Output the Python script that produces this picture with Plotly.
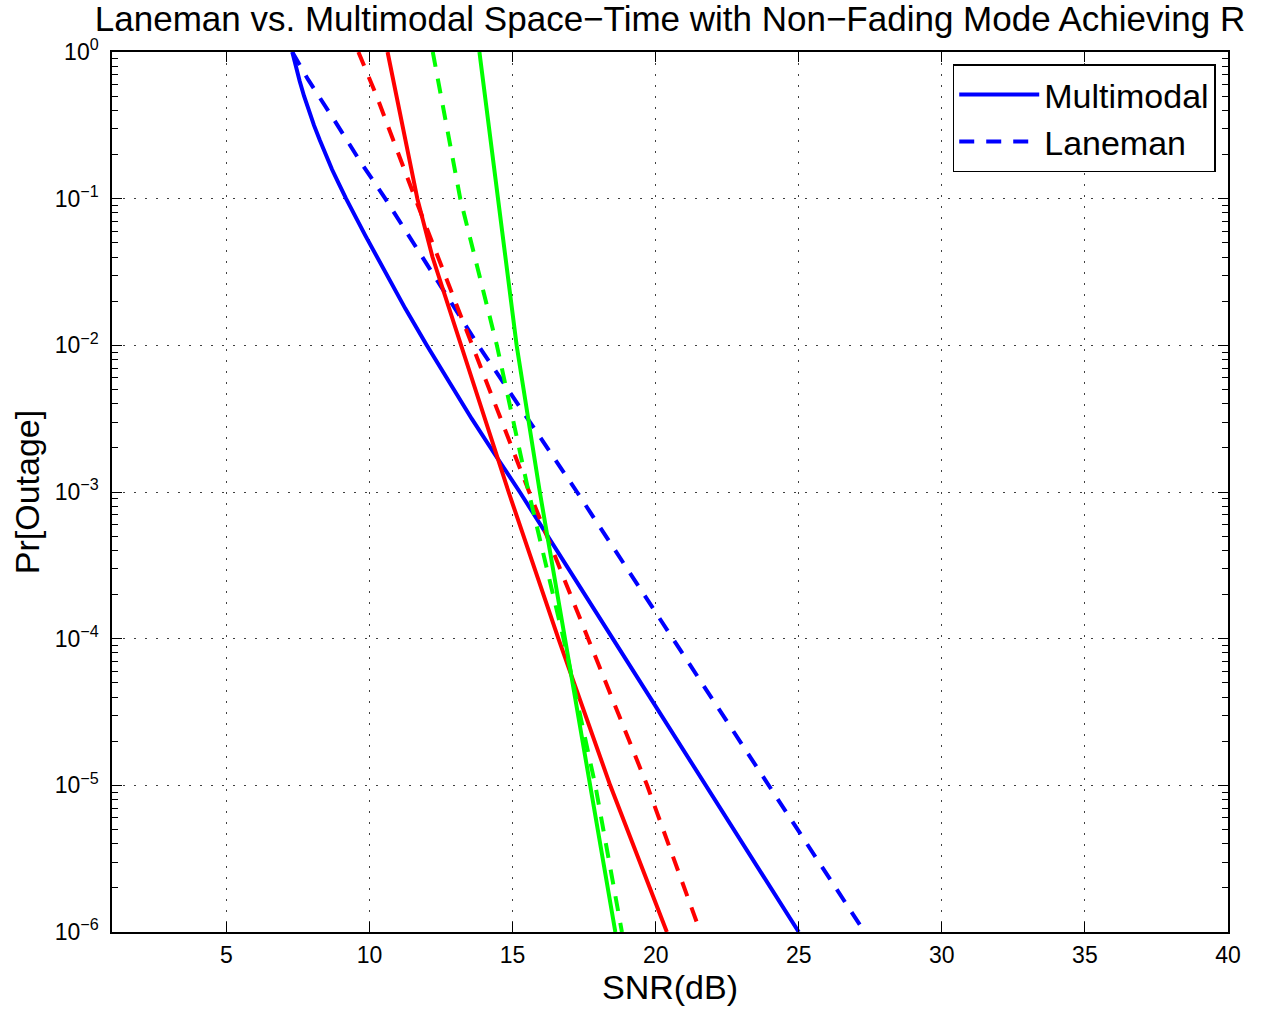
import plotly.graph_objects as go

# ---- data (SNR in dB, outage probability) ----
snr_multi_blue = [7.3, 7.42, 7.56, 7.71, 7.88, 8.06, 8.26, 8.46, 8.69, 8.93, 9.18,
                  9.85, 10.54, 11.25, 12.0, 12.77, 13.57, 14.4, 15.25, 18.5, 21.75, 25.0]
pout_multi_blue = [1.0, 0.794, 0.631, 0.501, 0.398, 0.316, 0.251, 0.2, 0.158, 0.126, 0.1,
                   0.0562, 0.0316, 0.0178, 1e-2, 5.62e-3, 3.16e-3, 1.78e-3, 1e-3,
                   1e-4, 1e-5, 1e-6]

snr_lane_blue = [7.3, 7.85, 8.74, 9.67, 10.55, 12.82, 13.8, 17.25, 20.6, 23.95, 27.3]
pout_lane_blue = [1.0, 0.65, 0.35, 0.18, 0.1, 0.02, 1e-2, 1e-3, 1e-4, 1e-5, 1e-6]

snr_multi_red = [10.63, 11.15, 11.67, 12.2, 12.7, 13.21, 14.86, 16.6, 18.41, 20.39]
pout_multi_red = [1.0, 0.32, 0.1, 0.04, 0.02, 1e-2, 1e-3, 1e-4, 1e-5, 1e-6]

snr_lane_red = [9.61, 10.25, 11.6, 13.6, 15.58, 17.64, 19.7, 21.56]
pout_lane_red = [1.0, 0.5, 0.1, 1e-2, 1e-3, 1e-4, 1e-5, 1e-6]

snr_multi_green = [13.84, 14.48, 15.14, 15.95, 16.84, 17.71, 18.59]
pout_multi_green = [1.0, 0.1, 1e-2, 1e-3, 1e-4, 1e-5, 1e-6]

snr_lane_green = [12.21, 13.17, 14.45, 15.56, 16.78, 17.89, 18.82]
pout_lane_green = [1.0, 0.1, 1e-2, 1e-3, 1e-4, 1e-5, 1e-6]

x_tickvals = [5, 10, 15, 20, 25, 30, 35, 40]
x_ticktext = ["5", "10", "15", "20", "25", "30", "35", "40"]
y_tickvals = [1e-6, 1e-5, 1e-4, 1e-3, 1e-2, 1e-1, 1e0]
y_ticktext = ["10<sup>\u22126</sup>", "10<sup>\u22125</sup>", "10<sup>\u22124</sup>",
              "10<sup>\u22123</sup>", "10<sup>\u22122</sup>", "10<sup>\u22121</sup>",
              "10<sup>0</sup>"]

title_text = "Laneman vs. Multimodal Space\u2212Time with Non\u2212Fading Mode Achieving R"

FONT = "Liberation Sans, Arial, Helvetica, sans-serif"
LW = 4
DASH = "15px,12px"

fig = go.Figure()

traces = [
    (snr_multi_blue, pout_multi_blue, "blue", "solid", "Multimodal", True),
    (snr_lane_blue, pout_lane_blue, "blue", DASH, "Laneman", True),
    (snr_multi_red, pout_multi_red, "red", "solid", "Multimodal (red)", False),
    (snr_lane_red, pout_lane_red, "red", DASH, "Laneman (red)", False),
    (snr_multi_green, pout_multi_green, "#00ff00", "solid", "Multimodal (green)", False),
    (snr_lane_green, pout_lane_green, "#00ff00", DASH, "Laneman (green)", False),
]
for xs, ys, col, dash, name, show in traces:
    fig.add_trace(go.Scatter(
        x=xs, y=ys, mode="lines", name=name, showlegend=show,
        line=dict(color=col, width=LW, dash=dash),
    ))

minor_vals = [m * 10.0 ** e for e in range(-6, 0) for m in range(2, 10)]

W, H = 1273, 1012
fig.update_layout(
    width=W, height=H,
    margin=dict(l=112, r=45, t=52, b=80),
    paper_bgcolor="white", plot_bgcolor="white",
    font=dict(family=FONT, color="black", size=23),
    title=dict(text=title_text, x=0.5, xref="paper", xanchor="center",
               y=1 - 19 / H, yref="container", yanchor="middle",
               font=dict(size=35, family=FONT, color="black")),
    legend=dict(x=0.989, y=0.986, xanchor="right", yanchor="top",
                bgcolor="white", bordercolor="black", borderwidth=1.5,
                font=dict(size=34, family=FONT, color="black"),
                itemwidth=80, tracegroupgap=0),
    showlegend=True,
)

fig.update_xaxes(
    range=[1, 40], tickmode="array", tickvals=x_tickvals, ticktext=x_ticktext,
    ticks="inside", ticklen=10, tickwidth=1, tickcolor="black",
    showline=True, linecolor="black", linewidth=1.5, mirror="allticks",
    showgrid=True, gridcolor="rgba(0,0,0,0.75)", gridwidth=1, griddash="2px,9px",
    zeroline=False, ticklabelstandoff=2,
    tickfont=dict(size=23, family=FONT, color="black"),
    title=dict(text="SNR(dB)", font=dict(size=34, family=FONT, color="black"), standoff=1),
)
fig.update_yaxes(
    type="log", range=[-6, 0], tickmode="array", tickvals=y_tickvals, ticktext=y_ticktext,
    ticks="inside", ticklen=10, tickwidth=1, tickcolor="black",
    showline=True, linecolor="black", linewidth=1.5, mirror="allticks",
    showgrid=True, gridcolor="rgba(0,0,0,0.75)", gridwidth=1, griddash="2px,9px",
    zeroline=False, ticklabelstandoff=7,
    minor=dict(tickmode="array", tickvals=minor_vals, ticks="inside", ticklen=6,
               tickwidth=1, tickcolor="black", showgrid=False),
    tickfont=dict(size=23, family=FONT, color="black"),
    title=dict(text="Pr[Outage]", font=dict(size=34, family=FONT, color="black"), standoff=5),
)

# remove the default 8px page margin so the figure fills the window exactly
fig.write_html("out.html", config={"displayModeBar": False},
               post_script="document.body.style.margin='0';")
